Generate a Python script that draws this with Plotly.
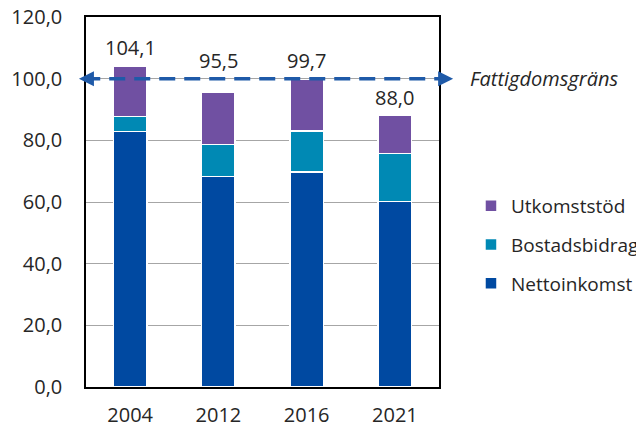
import plotly.graph_objects as go

years = ["2004", "2012", "2016", "2021"]
nettoinkomst = [82.8, 68.2, 69.8, 60.1]
bostadsbidrag = [5.0, 10.4, 13.3, 15.6]
utkomststod = [16.3, 16.9, 16.6, 12.3]
totals = [104.1, 95.5, 99.7, 88.0]
poverty_line = 100.0
poverty_label = "Fattigdomsgräns"
y_ticks = [0, 20, 40, 60, 80, 100, 120]

FONT = "Open Sans"
TXT = "#262626"
LINE_COL = "#1F5AA8"
series = [
    ("Nettoinkomst", nettoinkomst, "#0049A1", 3),
    ("Bostadsbidrag", bostadsbidrag, "#0089B4", 2),
    ("Utkomststöd", utkomststod, "#7050A2", 1),
]

fig = go.Figure()
for name, vals, col, rank in series:
    fig.add_trace(go.Bar(
        x=years, y=vals, name=name, legendgroup=name, legendrank=rank,
        marker=dict(color=col, line=dict(color="white", width=1.5)),
    ))

# total labels above bars (lifted above the poverty line when they would collide with it)
for i, tot in enumerate(totals):
    ly = tot + 6
    if abs(ly - poverty_line) < 6:
        ly = poverty_line + 6
    fig.add_annotation(
        x=i, y=ly, xref="x", yref="y",
        text=f"{tot:.1f}".replace(".", ","), showarrow=False,
        font=dict(family=FONT, size=20, color=TXT),
    )

# poverty line: dashed with arrowheads at both ends
fig.add_shape(
    type="line", xref="paper", yref="y",
    x0=-0.005, x1=1.005, y0=poverty_line, y1=poverty_line,
    line=dict(color=LINE_COL, width=3.5, dash="16px,9px"),
)
fig.add_annotation(
    x=1.04, y=poverty_line, xref="paper", yref="y",
    ax=-16, ay=0, axref="pixel", ayref="pixel",
    showarrow=True, arrowhead=2, arrowsize=1, arrowwidth=3,
    arrowcolor=LINE_COL, text="",
)
fig.add_annotation(
    x=-0.02, y=poverty_line, xref="paper", yref="y",
    ax=16, ay=0, axref="pixel", ayref="pixel",
    showarrow=True, arrowhead=2, arrowsize=1, arrowwidth=3,
    arrowcolor=LINE_COL, text="",
)
fig.add_annotation(
    x=1.083, y=poverty_line, xref="paper", yref="y",
    text=f"<i>{poverty_label}</i>", showarrow=False, xanchor="left",
    font=dict(family=FONT, size=20, color=TXT),
)

fig.update_layout(
    width=636, height=422,
    margin=dict(l=78, r=205, t=9, b=43, autoexpand=False),
    paper_bgcolor="white", plot_bgcolor="white",
    barmode="stack", bargap=0.623,
    separators=",.",
    font=dict(family=FONT, size=20, color=TXT),
    showlegend=True,
    legend=dict(
        x=1.0906, xanchor="left", y=0.384, yanchor="middle",
        traceorder="grouped", tracegroupgap=11,
        font=dict(family=FONT, size=19, color=TXT),
        bgcolor="rgba(0,0,0,0)",
    ),
    xaxis=dict(
        type="category", categoryorder="array", categoryarray=years,
        range=[-0.5, 3.5], automargin=False,
        showline=True, mirror=True, linecolor="black",
        linewidth=1.5, ticks="outside", ticklen=9,
        tickcolor="rgba(0,0,0,0)", showgrid=False,
        tickfont=dict(family=FONT, size=20, color=TXT),
    ),
    yaxis=dict(
        range=[0, 120], tickvals=y_ticks, tickformat=".1f", automargin=False,
        ticklabeloverflow="allow",
        showline=True, mirror=True, linecolor="black", linewidth=1.5,
        showgrid=True, gridcolor="#A6A6A6", gridwidth=1,
        ticks="outside", ticklen=18, tickcolor="rgba(0,0,0,0)",
        zeroline=False,
        tickfont=dict(family=FONT, size=20, color=TXT),
    ),
)

fig.write_html("out.html")
